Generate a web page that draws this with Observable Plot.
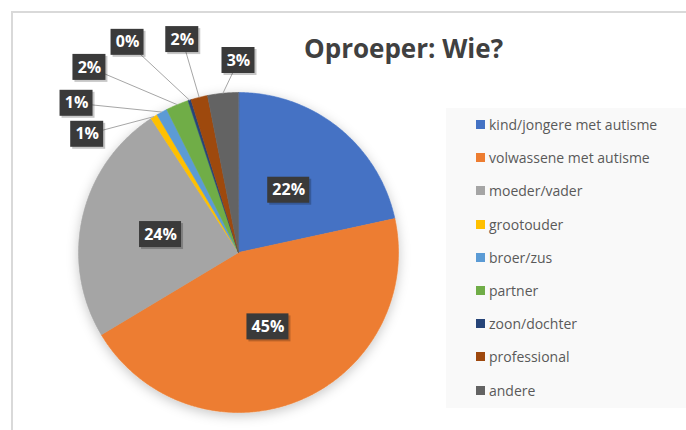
<!DOCTYPE html>
<html>
<head>
<meta charset="utf-8">
<script src="https://cdn.jsdelivr.net/npm/d3@7"></script>
<script src="https://cdn.jsdelivr.net/npm/@observablehq/plot@0.6"></script>
<style>
  html, body { margin: 0; padding: 0; background: #fff; }
  #wrap { position: relative; width: 686px; height: 430px; overflow: hidden; font-family: "Open Sans", sans-serif; }
  #frame { position: absolute; left: 11px; top: 11px; width: 700px; height: 440px; border-left: 2px solid #d9d9d9; border-top: 2px solid #d9d9d9; box-sizing: border-box; }
  #legend { position: absolute; left: 446px; top: 108px; width: 260px; height: 300px; background: #f9f9f9; }
  .item { height: 33.2px; display: flex; align-items: center; padding-left: 30px; color: #595959; font-size: 14px; }
  .sw { width: 9px; height: 9px; margin-right: 4px; flex: none; }
  #title { position: absolute; left: 304px; top: 35px; font-size: 26px; line-height: 26px; font-weight: 700; color: #404040; white-space: nowrap; }
  #chart { position: absolute; left: 0; top: 0; }
</style>
</head>
<body>
<div id="wrap">
  <div id="frame"></div>
  <div id="legend"></div>
  <div id="chart"></div>
  <div id="title"></div>
</div>
<script>
const title = "Oproeper: Wie?";
const categories = ["kind/jongere met autisme", "volwassene met autisme", "moeder/vader", "grootouder", "broer/zus", "partner", "zoon/dochter", "professional", "andere"];
const values = [21.6, 44.8, 24.4, 0.7, 1.1, 2.3, 0.3, 1.7, 3.1];
const colors = ["#4472C4", "#ED7D31", "#A5A5A5", "#FFC000", "#5B9BD5", "#70AD47", "#264478", "#9E480E", "#636363"];

// layout constants (pixels)
const W = 686, H = 430, CX = 238, CY = 252, R = 160;

const total = d3.sum(values);
const rows = categories.map((c, i) => ({cat: c, value: values[i], pct: Math.round(values[i] / total * 100) + "%"}));
const arcs = d3.pie().sort(null).value(d => d.value)(rows);

// slice polygons in unit-circle coordinates (angle 0 at 12 o'clock, clockwise)
const points = [];
for (const a of arcs) {
  points.push({cat: a.data.cat, x: 0, y: 0});
  const n = Math.max(2, Math.ceil((a.endAngle - a.startAngle) / (Math.PI / 360)));
  for (let k = 0; k <= n; k++) {
    const t = a.startAngle + (a.endAngle - a.startAngle) * k / n;
    points.push({cat: a.data.cat, x: Math.sin(t), y: -Math.cos(t)});
  }
}

// labels: big slices inside at half radius, small slices fanned out with leader lines
const inner = [], outer = [];
const small = arcs.filter(a => a.data.value / total < 0.05);
for (const a of arcs) {
  const mid = (a.startAngle + a.endAngle) / 2;
  if (a.data.value / total >= 0.05) {
    inner.push({label: a.data.pct, lx: 0.5 * Math.sin(mid), ly: -0.5 * Math.cos(mid)});
  }
}
small.forEach((a, i) => {
  const mid = (a.startAngle + a.endAngle) / 2;
  const t = small.length > 1 ? i / (small.length - 1) : 0;
  const ang = (308 + 52 * Math.pow(t, 1.5)) * Math.PI / 180;
  const r = 1.2 + 0.3 * Math.sin(Math.PI * t);
  outer.push({label: a.data.pct, ax: Math.sin(mid), ay: -Math.cos(mid), lx: r * Math.sin(ang), ly: -r * Math.cos(ang)});
});
const allLabels = inner.concat(outer);

const plot = Plot.plot({
  width: W, height: H, margin: 0,
  style: {background: "transparent", overflow: "visible"},
  x: {axis: null, domain: [-CX / R, (W - CX) / R], range: [0, W]},
  y: {axis: null, domain: [-CY / R, (H - CY) / R], range: [0, H]},
  color: {domain: categories, range: colors},
  marks: [
    Plot.line(points, {x: "x", y: "y", z: "cat", fill: "cat", stroke: "cat", strokeWidth: 0.6, curve: "linear-closed"}),
    Plot.link(outer, {x1: "ax", y1: "ay", x2: "lx", y2: "ly", stroke: "#a6a6a6", strokeWidth: 1}),
    Plot.rect(inner, {x1: "lx", x2: "lx", y1: "ly", y2: "ly", insetLeft: -21, insetRight: -21, insetTop: -13, insetBottom: -13, fill: "#000", fillOpacity: 0.22, dx: 2, dy: 2}),
    Plot.rect(outer, {x1: "lx", x2: "lx", y1: "ly", y2: "ly", insetLeft: -16.5, insetRight: -16.5, insetTop: -13, insetBottom: -13, fill: "#000", fillOpacity: 0.22, dx: 2, dy: 2}),
    Plot.rect(inner, {x1: "lx", x2: "lx", y1: "ly", y2: "ly", insetLeft: -21, insetRight: -21, insetTop: -13, insetBottom: -13, fill: "#3a3a3a"}),
    Plot.rect(outer, {x1: "lx", x2: "lx", y1: "ly", y2: "ly", insetLeft: -16.5, insetRight: -16.5, insetTop: -13, insetBottom: -13, fill: "#3a3a3a"}),
    Plot.text(allLabels, {x: "lx", y: "ly", text: "label", fill: "white", fontWeight: "bold", fontSize: 16, fontFamily: "Open Sans"})
  ]
});

// soft shadow around the pie
const ns = "http://www.w3.org/2000/svg";
const defs = document.createElementNS(ns, "defs");
defs.innerHTML = '<filter id="pieShadow" x="-20%" y="-20%" width="140%" height="140%"><feDropShadow dx="0" dy="3" stdDeviation="6" flood-color="#000" flood-opacity="0.22"/></filter>';
plot.insertBefore(defs, plot.firstChild);
const pieG = plot.querySelector('g[aria-label="line"]');
if (pieG) pieG.setAttribute("filter", "url(#pieShadow)");
document.getElementById("chart").appendChild(plot);

document.getElementById("title").textContent = title;
const legend = document.getElementById("legend");
categories.forEach((c, i) => {
  const it = document.createElement("div");
  it.className = "item";
  const sw = document.createElement("span");
  sw.className = "sw";
  sw.style.background = colors[i];
  const tx = document.createElement("span");
  tx.textContent = c;
  it.appendChild(sw); it.appendChild(tx);
  legend.appendChild(it);
});
</script>
</body>
</html>
